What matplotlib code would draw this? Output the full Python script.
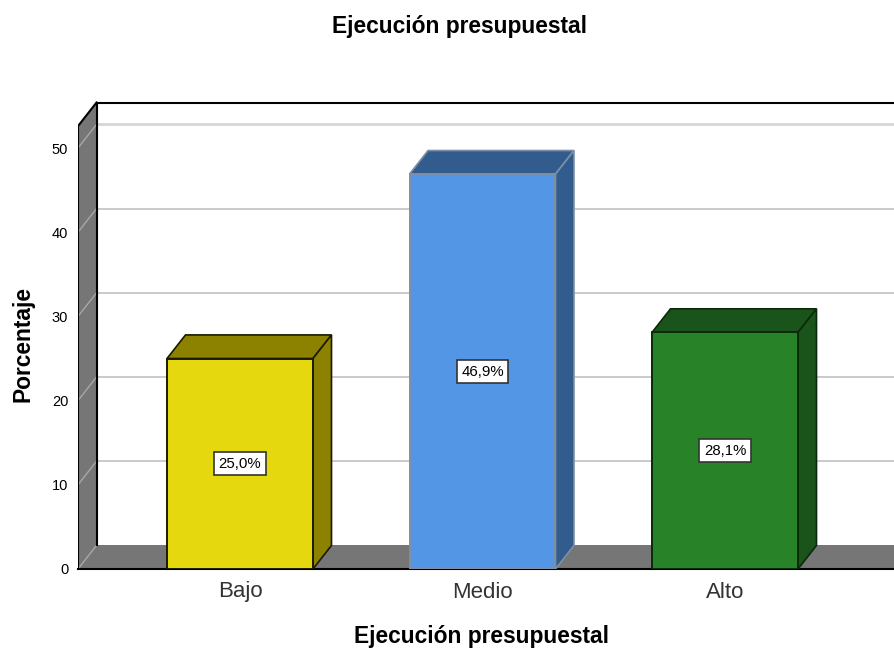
import matplotlib
matplotlib.use('Agg')
import matplotlib.pyplot as plt
from matplotlib.patches import Polygon, Rectangle

plt.rcParams['font.family'] = ['Liberation Sans', 'DejaVu Sans']

categorias = ['Bajo', 'Medio', 'Alto']
porcentajes = [25.0, 46.9, 28.1]
etiquetas = ['25,0%', '46,9%', '28,1%']
marcas_y = [0, 10, 20, 30, 40, 50]

color_frente = ['#E6D80E', '#5496E6', '#278228']
color_lado = ['#8C8200', '#335C8E', '#1A541A']
color_borde = ['#1A1A00', '#7F8FA3', '#0A2A0A']
GRIS_PARED = '#767676'
GRIS_REJILLA = '#C6C6C6'

# profundidad del efecto 3D en unidades de datos
DX = 0.0763
DY = 2.8
ANCHO = 0.602
X_MIN, X_MAX = -0.668, 2.701
TECHO = 52.6  # altura de la pared en el plano frontal

fig = plt.figure(figsize=(8.95, 6.49), dpi=100)
ax = fig.add_axes([78 / 895, 1 - 569 / 649, (895 - 78) / 895, (569 - 100) / 649])
ax.set_xlim(X_MIN, X_MAX)
ax.set_ylim(0, (569 - 100) / 8.42)

# pared izquierda y suelo
ax.add_patch(Polygon([(X_MIN, 0), (X_MIN + DX, DY), (X_MIN + DX, TECHO + DY), (X_MIN, TECHO)],
                     facecolor=GRIS_PARED, edgecolor='none', zorder=1))
ax.add_patch(Polygon([(X_MIN, 0), (X_MAX + 1, 0), (X_MAX + 1, DY), (X_MIN + DX, DY)],
                     facecolor=GRIS_PARED, edgecolor='none', zorder=1))

# rejilla: tramo del fondo y diagonal sobre la pared
for v in marcas_y:
    grosor = 2.0 if v == 50 else 1.3
    gris = '#D6D6D6' if v == 50 else GRIS_REJILLA
    if v > 0:
        ax.plot([X_MIN + DX, X_MAX], [v + DY, v + DY], color=gris, lw=grosor, zorder=2)
    ax.plot([X_MIN, X_MIN + DX], [v, v + DY], color='#A8A8A8', lw=1.0, zorder=2)

# contorno negro de la caja
negro = dict(color='black', lw=1.5, zorder=3, solid_capstyle='projecting')
ax.plot([X_MIN, X_MIN], [0, TECHO], **negro)
ax.plot([X_MIN, X_MIN + DX], [TECHO, TECHO + DY], **negro)
ax.plot([X_MIN + DX, X_MIN + DX], [DY, TECHO + DY], **negro)
ax.plot([X_MIN + DX, X_MAX], [TECHO + DY, TECHO + DY], **negro)
ax.plot([X_MIN, X_MAX], [0, 0], clip_on=False, **negro)

# barras con cara frontal, superior y lateral
for i, v in enumerate(porcentajes):
    x0 = i - ANCHO / 2
    x1 = i + ANCHO / 2
    borde = color_borde[i]
    ax.add_patch(Polygon([(x0, v), (x1, v), (x1 + DX, v + DY), (x0 + DX, v + DY)],
                         facecolor=color_lado[i], edgecolor=borde, lw=1.2, zorder=4))
    ax.add_patch(Polygon([(x1, 0), (x1 + DX, DY), (x1 + DX, v + DY), (x1, v)],
                         facecolor=color_lado[i], edgecolor=borde, lw=1.2, zorder=4))
    ax.add_patch(Rectangle((x0, 0), ANCHO, v, facecolor=color_frente[i], edgecolor=borde,
                           lw=1.4, zorder=5))
    ax.text(i, v / 2, etiquetas[i], ha='center', va='center', fontsize=10.8, color='black', zorder=6,
            bbox=dict(boxstyle='square,pad=0.3', facecolor='white', edgecolor='#333333', lw=1.2))

ax.set_xticks(range(len(categorias)))
ax.set_xticklabels(categorias, fontsize=16, color='#333333')
ax.set_yticks(marcas_y)
ax.set_yticklabels([str(m) for m in marcas_y], fontsize=10.5, color='black')
ax.tick_params(axis='both', length=0)
ax.tick_params(axis='x', pad=9)
ax.tick_params(axis='y', pad=7)
for lado in ax.spines.values():
    lado.set_visible(False)

ax.set_xlabel('Ejecución presupuestal', fontsize=16.4, fontweight='bold')
ax.xaxis.set_label_coords((482 - 78) / 817, -(636 - 569) / 469, transform=ax.transAxes)
ax.xaxis.label.set_va('center')
ax.set_ylabel('Porcentaje', fontsize=16.4, fontweight='bold')
ax.yaxis.set_label_coords((22.5 - 78) / 817, (569 - 344) / 469, transform=ax.transAxes)
ax.yaxis.label.set_va('center')

fig.text(460 / 895, 1 - 26.5 / 649, 'Ejecución presupuestal', ha='center', va='center',
         fontsize=16.4, fontweight='bold')

fig.savefig('out.png', dpi=100)
